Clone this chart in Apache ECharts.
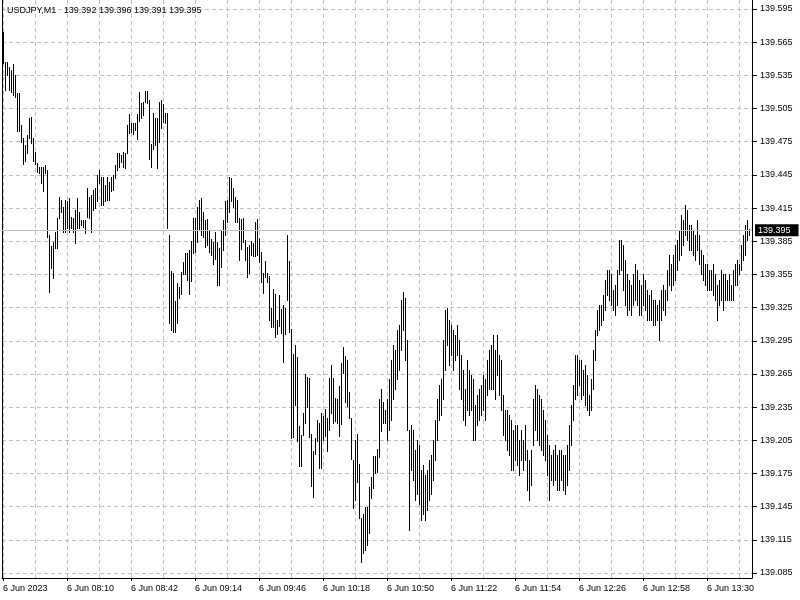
<!DOCTYPE html>
<html>
<head>
<meta charset="utf-8">
<script src="https://cdn.jsdelivr.net/npm/echarts@6/dist/echarts.min.js"></script>
<style>html,body{margin:0;padding:0;background:#fff;}#c{width:800px;height:600px;}</style>
</head>
<body>
<div id="c"></div>
<script>
// USDJPY M1, 6 Jun 2023, one bar per minute from 07:38
const symbolTitle = "USDJPY,M1";
const lastOHLC = [139.392, 139.396, 139.391, 139.395];
const xTickLabels = ["6 Jun 2023","6 Jun 08:10","6 Jun 08:42","6 Jun 09:14","6 Jun 09:46","6 Jun 10:18","6 Jun 10:50","6 Jun 11:22","6 Jun 11:54","6 Jun 12:26","6 Jun 12:58","6 Jun 13:30"];
const yTickMin = 139.085, yTickMax = 139.595, yTickStep = 0.03;

const highs = [
139.574,139.547,139.547,139.543,139.540,139.545,139.535,139.519,139.519,139.490,
139.478,139.472,139.481,139.496,139.497,139.478,139.466,139.456,139.452,139.452,
139.452,139.454,139.449,139.391,139.381,139.384,139.393,139.406,139.425,139.422,
139.416,139.422,139.421,139.424,139.407,139.406,139.413,139.424,139.411,139.404,
139.404,139.404,139.433,139.425,139.427,139.431,139.433,139.445,139.449,139.443,
139.443,139.436,139.443,139.439,139.443,139.445,139.454,139.465,139.465,139.463,
139.466,139.465,139.490,139.500,139.492,139.492,139.492,139.500,139.520,139.510,
139.511,139.521,139.521,139.513,139.473,139.501,139.496,139.496,139.511,139.513,
139.509,139.501,139.501,139.391,139.358,139.356,139.331,139.347,139.344,139.357,
139.366,139.374,139.374,139.377,139.385,139.406,139.406,139.416,139.422,139.424,
139.411,139.404,139.405,139.395,139.387,139.384,139.393,139.384,139.379,139.395,
139.404,139.421,139.422,139.443,139.442,139.433,139.425,139.422,139.406,139.405,
139.406,139.386,139.380,139.382,139.385,139.383,139.402,139.405,139.388,139.375,
139.356,139.367,139.356,139.354,139.325,139.342,139.337,139.314,139.336,139.324,
139.327,139.325,139.391,139.367,139.306,139.283,139.291,139.280,139.218,139.210,
139.230,139.265,139.262,139.261,139.211,139.195,139.207,139.223,139.221,139.230,
139.227,139.233,139.225,139.261,139.273,139.261,139.243,139.242,139.254,139.275,
139.289,139.281,139.278,139.249,139.225,139.187,139.205,139.211,139.184,139.135,
139.138,139.145,139.145,139.163,139.172,139.191,139.191,139.197,139.242,139.251,
139.240,139.232,139.242,139.260,139.278,139.291,139.287,139.305,139.309,139.332,
139.339,139.334,139.296,139.214,139.219,139.214,139.196,139.205,139.201,139.178,
139.183,139.174,139.178,139.187,139.192,139.205,139.223,139.242,139.255,139.260,
139.296,139.323,139.325,139.314,139.309,139.305,139.300,139.309,139.296,139.282,
139.269,139.251,139.278,139.269,139.264,139.260,139.237,139.246,139.251,139.255,
139.264,139.260,139.278,139.287,139.291,139.300,139.287,139.300,139.282,139.278,
139.246,139.232,139.232,139.228,139.223,139.214,139.219,139.219,139.205,139.214,
139.205,139.219,139.196,139.187,139.196,139.242,139.255,139.251,139.246,139.242,
139.232,139.223,139.210,139.201,139.192,139.196,139.201,139.192,139.196,139.196,
139.192,139.192,139.201,139.219,139.237,139.255,139.282,139.282,139.278,139.278,
139.269,139.273,139.264,139.246,139.260,139.287,139.305,139.323,139.327,139.327,
139.336,139.350,139.359,139.359,139.355,139.341,139.345,139.359,139.386,139.386,
139.382,139.368,139.355,139.350,139.345,139.355,139.364,139.359,139.350,139.345,
139.355,139.350,139.341,139.336,139.341,139.332,139.332,139.327,139.332,139.341,
139.345,139.341,139.359,139.373,139.364,139.373,139.382,139.386,139.395,139.409,
139.404,139.418,139.413,139.400,139.400,139.395,139.391,139.404,139.391,139.377,
139.373,139.364,139.364,139.359,139.359,139.364,139.355,139.345,139.350,139.359,
139.355,139.355,139.350,139.355,139.345,139.359,139.364,139.368,139.364,139.382,
139.391,139.400,139.404,139.396
];
const lows = [
139.546,139.522,139.535,139.522,139.520,139.517,139.515,139.485,139.485,139.475,
139.455,139.458,139.465,139.478,139.474,139.458,139.455,139.448,139.447,139.438,
139.430,139.447,139.389,139.339,139.361,139.352,139.379,139.379,139.406,139.411,
139.393,139.393,139.397,139.393,139.397,139.393,139.383,139.397,139.397,139.400,
139.398,139.392,139.407,139.406,139.393,139.413,139.415,139.421,139.438,139.418,
139.418,139.421,139.422,139.422,139.430,139.431,139.442,139.449,139.452,139.457,
139.452,139.451,139.465,139.483,139.484,139.482,139.486,139.477,139.494,139.496,
139.499,139.511,139.510,139.459,139.452,139.468,139.472,139.451,139.475,139.487,
139.493,139.492,139.397,139.311,139.305,139.303,139.303,139.311,139.334,139.337,
139.355,139.355,139.350,139.337,139.349,139.374,139.375,139.384,139.395,139.391,
139.389,139.380,139.382,139.375,139.373,139.364,139.369,139.345,139.345,139.362,
139.377,139.391,139.402,139.411,139.421,139.416,139.402,139.402,139.368,139.378,
139.384,139.368,139.353,139.356,139.373,139.372,139.372,139.373,139.366,139.348,
139.338,139.353,139.348,139.314,139.307,139.307,139.298,139.301,139.308,139.302,
139.276,139.301,139.332,139.303,139.207,139.208,139.237,139.204,139.182,139.182,
139.210,139.221,139.235,139.208,139.164,139.154,139.193,139.204,139.180,139.180,
139.205,139.209,139.195,139.214,139.230,139.221,139.222,139.221,139.209,139.220,
139.266,139.240,139.236,139.225,139.188,139.144,139.151,139.167,139.135,139.095,
139.103,139.106,139.110,139.121,139.153,139.162,139.175,139.176,139.190,139.213,
139.221,139.221,139.205,139.214,139.223,139.242,139.251,139.260,139.269,139.287,
139.305,139.278,139.214,139.124,139.178,139.169,139.151,139.156,139.147,139.133,
139.138,139.133,139.142,139.151,139.156,139.169,139.187,139.205,139.223,139.228,
139.242,139.269,139.291,139.273,139.282,139.269,139.278,139.282,139.251,139.242,
139.223,139.219,139.232,139.228,139.232,139.205,139.205,139.219,139.223,139.228,
139.232,139.223,139.246,139.251,139.251,139.251,139.242,139.264,139.246,139.232,
139.210,139.205,139.196,139.192,139.178,139.178,139.187,139.183,139.174,139.187,
139.178,139.187,139.160,139.151,139.165,139.201,139.214,139.205,139.201,139.196,
139.192,139.187,139.174,139.151,139.169,139.165,139.169,139.160,139.160,139.169,
139.160,139.156,139.165,139.178,139.201,139.223,139.242,139.246,139.255,139.242,
139.246,139.237,139.232,139.228,139.232,139.251,139.278,139.300,139.305,139.309,
139.314,139.323,139.336,139.332,139.327,139.323,139.318,139.327,139.355,139.359,
139.341,139.327,139.318,139.323,139.318,139.327,139.332,139.327,139.318,139.318,
139.327,139.323,139.314,139.314,139.314,139.309,139.309,139.314,139.296,139.314,
139.323,139.318,139.332,139.345,139.341,139.345,139.350,139.359,139.368,139.373,
139.382,139.391,139.386,139.377,139.377,139.373,139.368,139.377,139.364,139.355,
139.350,139.345,139.341,139.341,139.341,139.336,139.332,139.314,139.327,139.332,
139.323,139.332,139.332,139.332,139.332,139.332,139.345,139.345,139.355,139.359,
139.368,139.373,139.386,139.391
];

const nSlots = highs.length + 1;
const cats = [];
for (let i = 0; i < nSlots; i++) cats.push(String(i));
const bars = highs.map((h, i) => [i, h, lows[i]]);

const FONT = "Liberation Sans";
const dashStyle = { color: '#c0c0c0', type: [4, 3], width: 1 };

const chart = echarts.init(document.getElementById('c'), null, { renderer: 'canvas' });
chart.setOption({
  animation: false,
  backgroundColor: '#ffffff',
  title: {
    text: symbolTitle + '   ' + lastOHLC.map(v => v.toFixed(3)).join(' '),
    left: 7, top: 6, padding: 0,
    textStyle: { fontFamily: FONT, fontSize: 9, fontWeight: 'normal', color: '#000' }
  },
  grid: [
    { left: 2, top: 0, width: 750, height: 578 },
    { left: 3, top: 0, width: 748, height: 578 },
    { left: 2, top: 9, width: 750, height: 564 }
  ],
  xAxis: [
    { gridIndex: 0, type: 'category', data: cats, boundaryGap: true,
      axisLine: { show: true, lineStyle: { color: '#000', width: 1 } },
      axisTick: { show: true, interval: 31, alignWithLabel: true, length: 3, lineStyle: { color: '#000' } },
      axisLabel: { interval: 31, align: 'left', margin: 6, fontFamily: FONT, fontSize: 9, color: '#000',
        formatter: (v, idx) => xTickLabels[Math.round(idx / 32)] || '' },
      splitLine: { show: false } },
    { gridIndex: 1, type: 'category', data: cats, boundaryGap: false,
      axisLine: { show: false }, axisTick: { show: false }, axisLabel: { show: false },
      splitLine: { show: true, interval: 15, lineStyle: dashStyle } },
    { gridIndex: 2, type: 'category', data: cats, boundaryGap: true, show: false }
  ],
  yAxis: [
    { gridIndex: 0, type: 'value', position: 'right',
      axisLine: { show: true, lineStyle: { color: '#000', width: 1 } },
      axisTick: { show: false }, axisLabel: { show: false }, splitLine: { show: false } },
    { gridIndex: 0, type: 'value', position: 'left',
      axisLine: { show: true, lineStyle: { color: '#000', width: 1 } },
      axisTick: { show: false }, axisLabel: { show: false }, splitLine: { show: false } },
    { gridIndex: 1, type: 'value', show: false },
    { gridIndex: 2, type: 'value', position: 'right', min: yTickMin, max: yTickMax, interval: yTickStep,
      axisLine: { show: false },
      axisTick: { show: true, length: 5, lineStyle: { color: '#000' } },
      axisLabel: { margin: 8, fontFamily: FONT, fontSize: 9, color: '#000', formatter: v => v.toFixed(3) },
      splitLine: { show: true, lineStyle: dashStyle } }
  ],
  series: [
    {
      type: 'line',
      xAxisIndex: 2, yAxisIndex: 3,
      data: [],
      z: 1,
      markLine: {
        silent: true, symbol: ['none', 'none'], animation: false, precision: 3,
        lineStyle: { color: '#c0c0c0', type: 'solid', width: 1 },
        label: { show: true, position: 'end', distance: 3, formatter: () => lastOHLC[3].toFixed(3),
          backgroundColor: '#000', color: '#fff', fontFamily: FONT, fontSize: 9, padding: [2, 8, 1, 3] },
        data: [{ yAxis: lastOHLC[3] }]
      }
    },
    {
      type: 'custom',
      xAxisIndex: 2, yAxisIndex: 3,
      data: bars,
      z: 3,
      encode: { x: 0, y: [1, 2] },
      renderItem: function (params, api) {
        const i = api.value(0);
        const top = api.coord([i, api.value(1)]);
        const bot = api.coord([i, api.value(2)]);
        const x = Math.round(top[0]);
        const y0 = Math.round(top[1]);
        const y1 = Math.round(bot[1]);
        return { type: 'rect', shape: { x: x, y: y0, width: 1, height: Math.max(1, y1 - y0 + 1) },
                 style: { fill: '#000' } };
      }
    }
  ]
});
</script>
</body>
</html>
